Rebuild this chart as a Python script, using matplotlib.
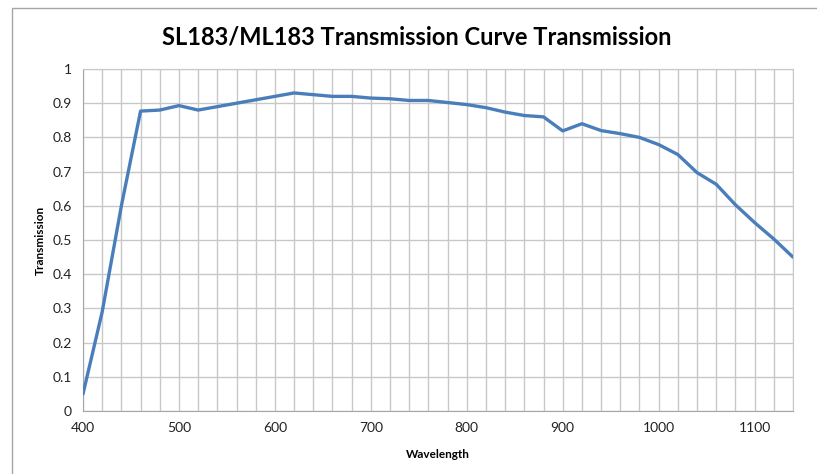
import matplotlib.pyplot as plt
from matplotlib.patches import Rectangle

# Data (20 nm steps)
wavelength = [400, 420, 440, 460, 480, 500, 520, 540, 560, 580, 600, 620, 640, 660, 680,
              700, 720, 740, 760, 780, 800, 820, 840, 860, 880, 900, 920, 940, 960, 980,
              1000, 1020, 1040, 1060, 1080, 1100, 1120, 1140]
transmission = [0.05, 0.29, 0.60, 0.877, 0.88, 0.893, 0.88, 0.89, 0.90, 0.91, 0.92, 0.93, 0.925, 0.92, 0.92,
                0.915, 0.913, 0.908, 0.908, 0.902, 0.896, 0.887, 0.874, 0.864, 0.86, 0.819, 0.84, 0.82, 0.811, 0.80,
                0.779, 0.75, 0.697, 0.663, 0.603, 0.551, 0.503, 0.45]
x_labels = [400, 500, 600, 700, 800, 900, 1000, 1100]
y_ticks = [0, 0.1, 0.2, 0.3, 0.4, 0.5, 0.6, 0.7, 0.8, 0.9, 1]

plt.rcParams['font.family'] = ['Lato', 'DejaVu Sans']

fig = plt.figure(figsize=(8.17, 4.74), dpi=100)
ax = fig.add_axes([0.1016, 0.1329, 0.869, 0.7215])

# Chart border (only left and top edges fall inside the picture)
fig.patches.append(Rectangle((12 / 817, -0.1), 1.2, 1.1 - 8 / 474, transform=fig.transFigure,
                             fill=False, edgecolor="#a6a6a6", linewidth=1))

ax.plot(wavelength, transmission, color="#4a7ebb", linewidth=2.4, solid_joinstyle="round",
        solid_capstyle="round", zorder=3)

ax.set_xlim(400, 1140)
ax.set_ylim(0, 1)
ax.set_xticks(x_labels)
ax.set_xticks(wavelength, minor=True)
ax.set_yticks(y_ticks)
ax.set_yticklabels(["0" if v == 0 else ("1" if v == 1 else f"{v:g}") for v in y_ticks])
ax.grid(True, which="both", color="#c8c8c8", linewidth=1)
ax.set_axisbelow(True)
ax.tick_params(which="both", length=0, labelsize=10, colors="#222222", pad=8)

for side in ["top", "right", "left", "bottom"]:
    ax.spines[side].set_color("#c8c8c8")
ax.spines["bottom"].set_color("#a6a6a6")
ax.spines["left"].set_color("#a6a6a6")

ax.set_xlabel("Wavelength", fontsize=8.5, fontweight="bold", labelpad=11)
ax.set_ylabel("Transmission", fontsize=8.5, fontweight="bold", labelpad=5)
fig.text(0.51, 0.921, "SL183/ML183 Transmission Curve Transmission", ha="center", va="center",
         fontsize=17, fontweight="bold")

fig.savefig("out.png", dpi=100)
